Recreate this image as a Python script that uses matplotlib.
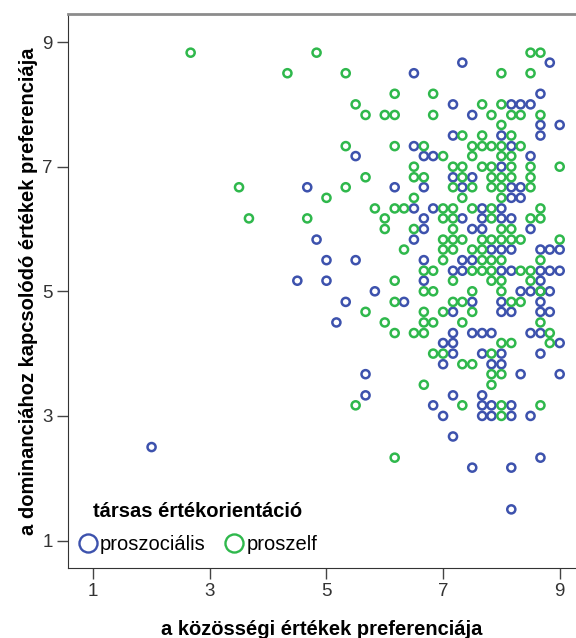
import matplotlib
matplotlib.use("Agg")
import matplotlib.pyplot as plt
from matplotlib.lines import Line2D

blue_c = "#3d52ad"
green_c = "#2fb84c"

# proszociális: (x, y) pairs
pro_x = [2.0, 4.67, 4.83, 4.5, 7.33, 8.83, 6.5, 8.67,
         7.17, 8.17, 8.33, 8.5, 7.5, 8.67, 9.0, 7.17, 8.0, 8.67,
         6.5, 8.17, 5.5, 6.67, 6.83, 8.5, 8.0, 7.17, 7.5,
         6.17, 6.67, 7.33, 8.17, 8.33, 8.17, 8.33,
         6.5, 6.83, 7.67, 8.0,
         6.67, 7.33, 7.67, 8.0, 8.17,
         6.67, 7.5, 7.67, 8.5,
         6.5,
         7.83, 8.0, 8.17, 8.67, 8.83, 9.0,
         5.0, 5.5, 6.67, 7.33, 7.5,
         7.17, 7.33, 8.0, 8.17, 8.67, 8.83, 9.0,
         5.0, 6.67, 8.67,
         5.83, 8.33, 8.5, 8.67, 8.83,
         5.33, 6.33, 7.5, 8.0, 8.67,
         7.17, 8.0, 8.17, 8.67, 8.83,
         5.17,
         7.17, 7.5, 7.67, 7.83, 8.5, 8.67,
         7.0, 7.17, 9.0,
         7.17, 7.67, 8.0, 8.67,
         7.0, 7.83, 8.0,
         5.67, 8.33, 9.0,
         5.67, 7.17, 7.67,
         6.83, 7.67, 7.83, 8.17,
         7.0, 7.67, 7.83, 8.17, 8.5,
         7.17, 8.67, 7.5, 8.17, 8.17]
pro_y = [2.5, 6.67, 5.83, 5.17, 8.67, 8.67, 8.5, 8.17,
         8.0, 8.0, 8.0, 8.0, 7.83, 7.67, 7.67, 7.5, 7.5, 7.5,
         7.33, 7.33, 7.17, 7.17, 7.17, 7.17, 7.0, 6.83, 6.83,
         6.67, 6.67, 6.67, 6.67, 6.67, 6.5, 6.5,
         6.33, 6.33, 6.33, 6.33,
         6.17, 6.17, 6.17, 6.17, 6.17,
         6.0, 6.0, 6.0, 6.0,
         5.83,
         5.67, 5.67, 5.67, 5.67, 5.67, 5.67,
         5.5, 5.5, 5.5, 5.5, 5.5,
         5.33, 5.33, 5.33, 5.33, 5.33, 5.33, 5.33,
         5.17, 5.17, 5.17,
         5.0, 5.0, 5.0, 5.0, 5.0,
         4.83, 4.83, 4.83, 4.83, 4.83,
         4.67, 4.67, 4.67, 4.67, 4.67,
         4.5,
         4.33, 4.33, 4.33, 4.33, 4.33, 4.33,
         4.17, 4.17, 4.17,
         4.0, 4.0, 4.0, 4.0,
         3.83, 3.83, 3.83,
         3.67, 3.67, 3.67,
         3.33, 3.33, 3.33,
         3.17, 3.17, 3.17, 3.17,
         3.0, 3.0, 3.0, 3.0, 3.0,
         2.67, 2.33, 2.17, 2.17, 1.5]

# proszelf
self_x = [2.67, 4.83, 4.33, 3.5, 3.67, 4.67,
          8.5, 8.67,
          5.33, 8.0, 8.5,
          6.17, 6.83,
          5.5, 7.67, 8.0,
          5.67, 6.0, 6.17, 6.83, 7.83, 8.17, 8.33, 8.67,
          8.0,
          7.33, 7.67, 8.17,
          5.33, 6.17, 6.67, 7.5, 7.67, 7.83, 8.0, 8.33,
          7.0, 7.5, 8.0, 8.17,
          6.5, 7.17, 7.33, 7.67, 7.83, 8.17, 8.5, 9.0,
          5.67, 6.5, 6.67, 7.33, 7.83, 8.0, 8.17, 8.5,
          5.33, 7.17, 7.5, 7.83, 8.0, 8.5,
          5.0, 6.5, 7.33, 8.0,
          5.83, 6.17, 6.33, 7.0, 7.17, 7.5, 7.83, 8.67,
          6.0, 7.0, 7.17, 7.83, 8.5, 8.67,
          6.0, 6.5, 7.17, 8.0, 8.17,
          7.0, 7.17, 7.33, 7.67, 7.83, 8.0, 8.17, 8.33, 9.0,
          6.33, 7.0, 7.17, 7.5, 7.67,
          7.0, 7.67, 7.83, 8.0, 8.67,
          6.67, 6.83, 7.5, 7.67, 7.83, 8.33, 8.5,
          6.17, 7.17, 7.83, 8.0, 8.5,
          6.67, 6.83, 7.5, 8.0, 8.67,
          6.17, 7.17, 7.33, 8.17, 8.33,
          5.67, 6.67, 7.0, 7.5,
          6.0, 6.67, 6.83, 7.33, 8.67,
          6.17, 6.5, 6.67, 8.83,
          8.0, 8.17, 8.83,
          6.83, 7.0, 7.83,
          7.33, 7.5,
          7.83, 8.0,
          6.67, 7.83,
          5.5, 7.33, 8.0, 8.67,
          8.0, 6.17]
self_y = [8.83, 8.83, 8.5, 6.67, 6.17, 6.17,
          8.83, 8.83,
          8.5, 8.5, 8.5,
          8.17, 8.17,
          8.0, 8.0, 8.0,
          7.83, 7.83, 7.83, 7.83, 7.83, 7.83, 7.83, 7.83,
          7.67,
          7.5, 7.5, 7.5,
          7.33, 7.33, 7.33, 7.33, 7.33, 7.33, 7.33, 7.33,
          7.17, 7.17, 7.17, 7.17,
          7.0, 7.0, 7.0, 7.0, 7.0, 7.0, 7.0, 7.0,
          6.83, 6.83, 6.83, 6.83, 6.83, 6.83, 6.83, 6.83,
          6.67, 6.67, 6.67, 6.67, 6.67, 6.67,
          6.5, 6.5, 6.5, 6.5,
          6.33, 6.33, 6.33, 6.33, 6.33, 6.33, 6.33, 6.33,
          6.17, 6.17, 6.17, 6.17, 6.17, 6.17,
          6.0, 6.0, 6.0, 6.0, 6.0,
          5.83, 5.83, 5.83, 5.83, 5.83, 5.83, 5.83, 5.83, 5.83,
          5.67, 5.67, 5.67, 5.67, 5.67,
          5.5, 5.5, 5.5, 5.5, 5.5,
          5.33, 5.33, 5.33, 5.33, 5.33, 5.33, 5.33,
          5.17, 5.17, 5.17, 5.17, 5.17,
          5.0, 5.0, 5.0, 5.0, 5.0,
          4.83, 4.83, 4.83, 4.83, 4.83,
          4.67, 4.67, 4.67, 4.67,
          4.5, 4.5, 4.5, 4.5, 4.5,
          4.33, 4.33, 4.33, 4.33,
          4.17, 4.17, 4.17,
          4.0, 4.0, 4.0,
          3.83, 3.83,
          3.67, 3.67,
          3.5, 3.5,
          3.17, 3.17, 3.17, 3.17,
          3.0, 2.33]

ticks = [1, 3, 5, 7, 9]
plt.rcParams['font.family'] = ['Liberation Sans', 'DejaVu Sans']

fig = plt.figure(figsize=(5.76, 6.38), dpi=100)
ax = fig.add_axes([0.118, 0.110, 0.880, 0.868])

ax.scatter(pro_x, pro_y, s=34, facecolors='none', edgecolors=blue_c, linewidths=1.8)
ax.scatter(self_x, self_y, s=34, facecolors='none', edgecolors=green_c, linewidths=1.8)

ax.set_xlim(0.566, 9.26)
ax.set_ylim(0.562, 9.45)
ax.set_xticks(ticks)
ax.set_yticks(ticks)
ax.tick_params(direction='out', length=8, width=1, color='#444444',
               labelsize=13.5, labelcolor='#333333', pad=3)

ax.spines['right'].set_visible(False)
ax.spines['top'].set_color('#8c8c8c')
ax.spines['top'].set_linewidth(2)
ax.spines['left'].set_color('#333333')
ax.spines['bottom'].set_color('#333333')

ax.set_xlabel("a közösségi értékek preferenciája", fontsize=14.5,
              fontweight='bold', labelpad=14)
ax.set_ylabel("a dominanciához kapcsolódó értékek preferenciája", fontsize=14.5,
              fontweight='bold', labelpad=3)

handles = [
    Line2D([], [], linestyle='none', marker='o', markersize=13,
           markerfacecolor='none', markeredgecolor=blue_c, markeredgewidth=1.7),
    Line2D([], [], linestyle='none', marker='o', markersize=13,
           markerfacecolor='none', markeredgecolor=green_c, markeredgewidth=1.7),
]
leg = ax.legend(handles, ["proszociális", "proszelf"], ncol=2,
                title="társas értékorientáció", loc='lower left',
                bbox_to_anchor=(-0.008, 0.0), frameon=False, fontsize=14.5,
                title_fontproperties={'weight': 'bold', 'size': 14.5},
                handlelength=1.0, handletextpad=0.1, columnspacing=0.9,
                borderaxespad=0.3, labelspacing=0.3)
leg._legend_box.sep = 10

fig.savefig("out.png", dpi=100)
